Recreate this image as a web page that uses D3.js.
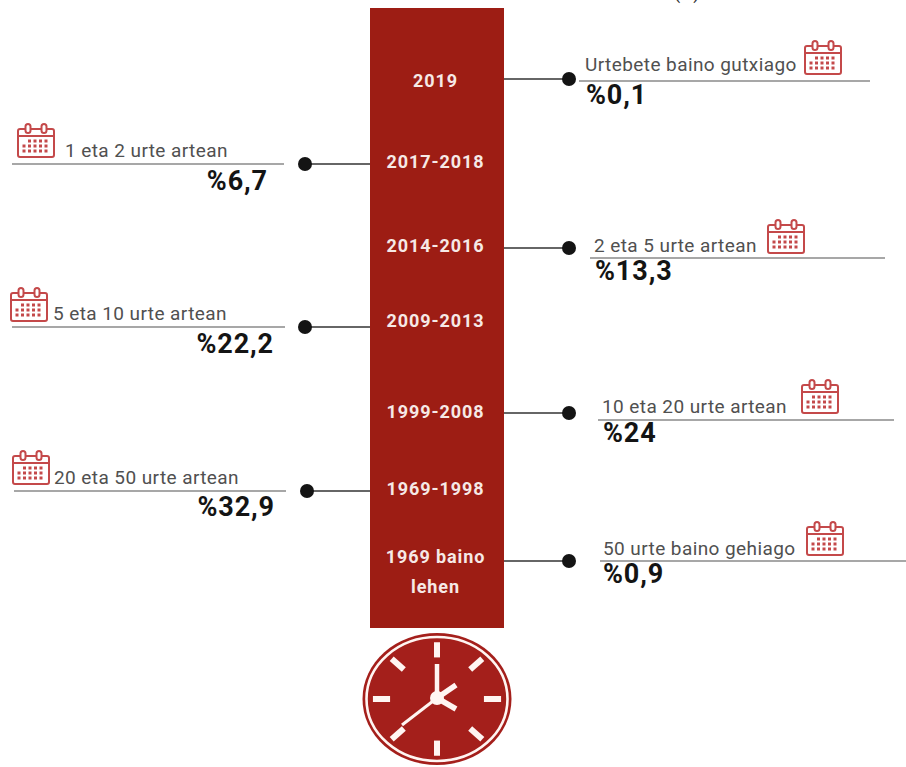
<!DOCTYPE html>
<html>
<head>
<meta charset="utf-8">
<script src="https://d3js.org/d3.v7.min.js"></script>
<style>
html, body { margin: 0; padding: 0; background: #fff; }
svg { display: block; font-family: Roboto, sans-serif; }
.period { fill: #f6e9e6; font-size: 18px; font-weight: 700; letter-spacing: 0.9px; text-anchor: middle; }
.label { fill: #505050; font-size: 19px; letter-spacing: 0.42px; }
.value { fill: #141414; font-size: 27px; font-weight: 700; letter-spacing: 0.9px; }
.cut-title { fill: #333; font-size: 18px; }
</style>
</head>
<body>
<svg id="canvas"></svg>
<script>
"use strict"

// Chart data
const periods = ["2019", "2017-2018", "2014-2016", "2009-2013", "1999-2008", "1969-1998", "1969 baino|lehen"];
const labels = ["Urtebete baino gutxiago", "1 eta 2 urte artean", "2 eta 5 urte artean", "5 eta 10 urte artean",
    "10 eta 20 urte artean", "20 eta 50 urte artean", "50 urte baino gehiago"];
const values = ["%0,1", "%6,7", "%13,3", "%22,2", "%24", "%32,9", "%0,9"];

// Layout of each row, the rows are not evenly spaced in the original
const periodY = [81, 162, 246, 321, 412, 489, 557];
const connectorY = [79, 164, 248, 327, 413, 491, 561];
const sides = ["right", "left", "right", "left", "right", "left", "right"];
const dotX = [569, 305, 569, 305, 569, 307, 569];
const ruleY = [81, 164, 258, 327, 420, 491, 561];
const ruleStart = [579, 12, 590, 12, 598, 14, 600];
const ruleEnd = [870, 284, 885, 285, 894, 286, 906];
const labelX = [585, 65, 594, 53, 602, 54, 603];
const labelY = [71, 157, 252, 320, 413, 484, 555];
const valueX = [586, 268, 595, 274, 603, 275, 603];
const valueY = [104, 190, 280, 353, 442, 516, 583];
const iconX = [804, 17, 767, 10, 801, 12, 806];
const iconY = [40, 123, 219, 287, 379, 450, 521];

const canvasWidth = 906;
const canvasHeight = 767;
const barRed = "#9d1d14";
const clockRed = "#a41f1b";
const clockWhite = "#fff5f2";
const iconRed = "#c4494a";

const canvas = d3.select("#canvas")
    .attr("width", canvasWidth)
    .attr("height", canvasHeight);

const bar = { x: 370, y: 8, width: 134, height: 620 };

// Index scale so every row lookup goes through one place
const row = d3.scaleOrdinal().domain(periods).range(d3.range(periods.length));

// The title above is cut off in the original, only the tail of its brackets shows
canvas.append("text")
    .attr("class", "cut-title")
    .attr("x", 674)
    .attr("y", -1)
    .text("(%)");

// Connectors go under the bar
canvas.selectAll(".connector")
    .data(periods)
    .enter()
    .append("line")
    .attr("stroke", "#333")
    .attr("stroke-width", 1.4)
    .attr("x1", d => dotX[row(d)])
    .attr("x2", d => sides[row(d)] === "right" ? bar.x + bar.width : bar.x)
    .attr("y1", d => connectorY[row(d)])
    .attr("y2", d => connectorY[row(d)]);

canvas.append("rect")
    .attr("x", bar.x)
    .attr("y", bar.y)
    .attr("width", bar.width)
    .attr("height", bar.height)
    .attr("fill", barRed);

// Period names inside the bar
const periodText = canvas.selectAll(".period")
    .data(periods)
    .enter()
    .append("text")
    .attr("class", "period")
    .attr("x", bar.x + bar.width / 2 - 1.5)
    .attr("y", d => periodY[row(d)] + 6);

periodText.selectAll("tspan")
    .data(d => d.split("|"))
    .enter()
    .append("tspan")
    .attr("x", bar.x + bar.width / 2 - 1.5)
    .attr("dy", (d, i) => i === 0 ? 0 : 30)
    .text(d => d);

canvas.selectAll(".dot")
    .data(periods)
    .enter()
    .append("circle")
    .attr("cx", d => dotX[row(d)])
    .attr("cy", d => connectorY[row(d)])
    .attr("r", 7)
    .attr("fill", "#141414");

canvas.selectAll(".rule")
    .data(periods)
    .enter()
    .append("line")
    .attr("stroke", "#8a8a8a")
    .attr("stroke-width", 1.6)
    .attr("x1", d => ruleStart[row(d)])
    .attr("x2", d => ruleEnd[row(d)])
    .attr("y1", d => ruleY[row(d)])
    .attr("y2", d => ruleY[row(d)]);

canvas.selectAll(".label")
    .data(labels)
    .enter()
    .append("text")
    .attr("class", "label")
    .attr("x", (d, i) => labelX[i])
    .attr("y", (d, i) => labelY[i])
    .text(d => d);

canvas.selectAll(".value")
    .data(values)
    .enter()
    .append("text")
    .attr("class", "value")
    .attr("text-anchor", (d, i) => sides[i] === "left" ? "end" : "start")
    .attr("x", (d, i) => valueX[i])
    .attr("y", (d, i) => valueY[i])
    .text(d => d);

iconX.forEach((x, i) => drawCalendar(x, iconY[i]));
drawClock(437, 699, 74.5, 66);

// Draw the little calendar icon, 38 wide and 35 high
function drawCalendar(x, y) {
    const g = canvas.append("g")
        .attr("transform", `translate(${x},${y})`)
        .attr("fill", "none")
        .attr("stroke", iconRed)
        .attr("stroke-width", 2);

    g.append("rect").attr("x", 1).attr("y", 6).attr("width", 36).attr("height", 28).attr("rx", 2);
    g.append("line").attr("x1", 1).attr("x2", 37).attr("y1", 13).attr("y2", 13);

    for(const ringX of [11, 27]) {
        g.append("rect")
            .attr("x", ringX - 2.5)
            .attr("y", 1)
            .attr("width", 5)
            .attr("height", 9)
            .attr("rx", 2.5)
            .attr("fill", "#fff");
    }

    // Grid of day dots
    for(const dy of [18, 23, 28]) {
        for(const dx of [7, 12.5, 18, 23.5, 29]) {
            if(dy === 18 && dx === 7) continue;
            g.append("rect")
                .attr("x", dx - 1.5)
                .attr("y", dy - 1.5)
                .attr("width", 3)
                .attr("height", 3)
                .attr("fill", iconRed)
                .attr("stroke", "none");
        }
    }
}

// Draw the clock below the bar, it is slightly squashed in the original
function drawClock(cx, cy, rx, ry) {
    const g = canvas.append("g").attr("transform", `translate(${cx},${cy})`);

    g.append("ellipse").attr("rx", rx).attr("ry", ry).attr("fill", clockRed);
    g.append("ellipse").attr("rx", rx - 4).attr("ry", ry - 4)
        .attr("fill", "none").attr("stroke", clockWhite).attr("stroke-width", 2.6);

    // Hour marks every 45 degrees
    const angle = d3.scaleLinear().domain([0, 8]).range([0, 2 * Math.PI]);
    d3.range(8).forEach(i => {
        const a = angle(i);
        g.append("line")
            .attr("x1", Math.sin(a) * rx * 0.63)
            .attr("y1", -Math.cos(a) * ry * 0.63)
            .attr("x2", Math.sin(a) * rx * 0.86)
            .attr("y2", -Math.cos(a) * ry * 0.86)
            .attr("stroke", clockWhite)
            .attr("stroke-width", 6);
    });

    // Hands and hub, the hub sits one pixel above the middle
    const hub = g.append("g").attr("transform", "translate(0,-1)");
    const hands = [[0, -34, 4.5], [-35, 27, 3], [19, -13, 5.5], [19, 11, 5.5]];
    hands.forEach(h => {
        hub.append("line")
            .attr("x1", 0).attr("y1", 0)
            .attr("x2", h[0]).attr("y2", h[1])
            .attr("stroke", clockWhite)
            .attr("stroke-width", h[2]);
    });
    hub.append("circle").attr("r", 7).attr("fill", clockWhite);
}
</script>
</body>
</html>
